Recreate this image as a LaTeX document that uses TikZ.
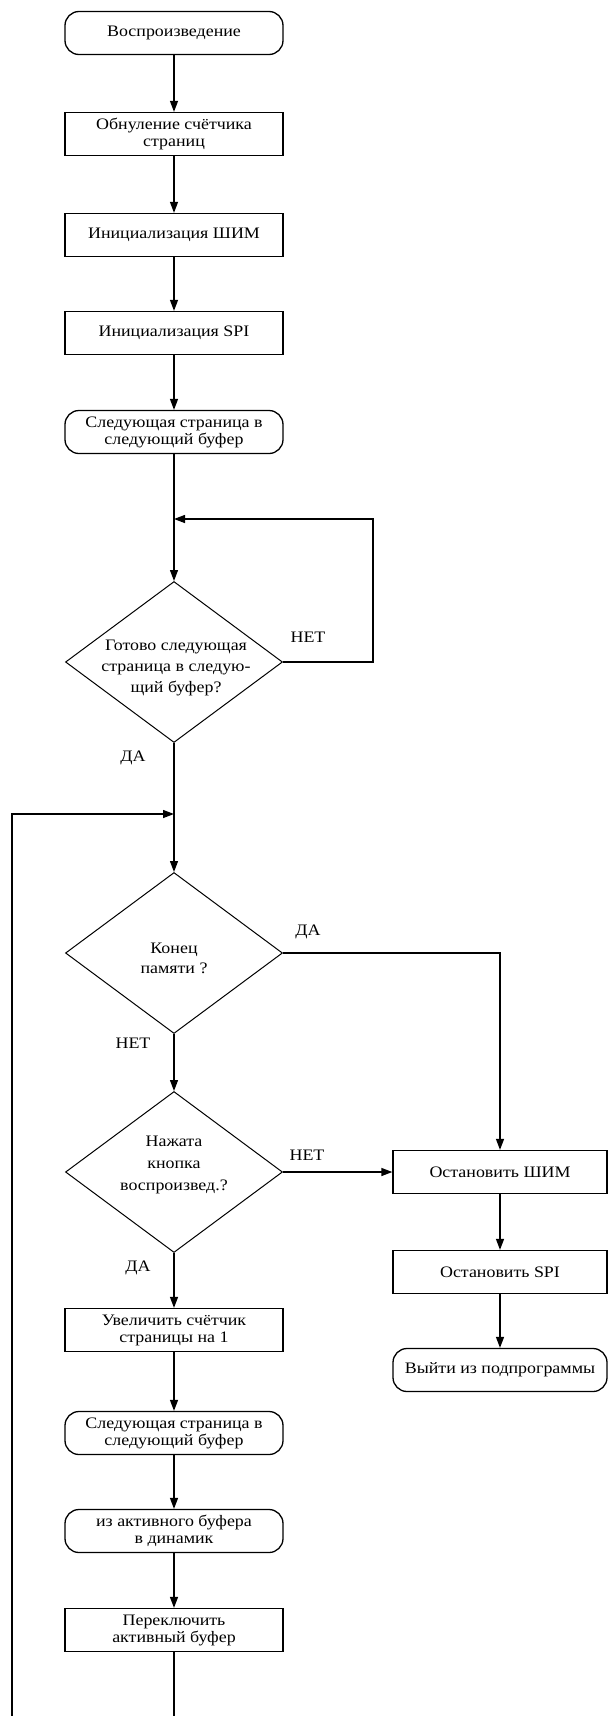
\documentclass[tikz,border=0pt]{standalone}
\usepackage{fontspec}
\setmainfont{Liberation Serif}[FakeStretch=1.12]
\usetikzlibrary{shapes.geometric,arrows.meta}

\tikzset{
  blk/.style={draw,line width=1.3pt,minimum width=218pt,minimum height=43pt,inner sep=0pt,
    align=center,font=\fontsize{16}{17}\selectfont},
  term/.style={blk,rounded corners=14pt},
  cond/.style={draw,diamond,line width=1pt,minimum width=217pt,minimum height=161pt,inner sep=0pt},
  condtxt/.style={align=center,font=\fontsize{16}{21}\selectfont},
  lbl/.style={font=\fontsize{16}{16}\selectfont},
  ln/.style={line width=1.3pt},
  arr/.style={ln,-{Triangle[length=11pt,width=8pt]}},
}

\begin{document}
\begin{tikzpicture}[x=1pt,y=-1pt]
    \useasboundingbox (0,0) rectangle (608,1716);
    % main column
    \node[term] (start) at (174,33) {Воспроизведение};
    \node[blk] (reset) at (174,134) {Обнуление счётчика\\страниц};
    \node[blk] (pwm) at (174,235) {Инициализация ШИМ};
    \node[blk] (spi) at (174,333) {Инициализация SPI};
    \node[term] (next1) at (174,432) {Следующая страница в\\следующий буфер};
    \coordinate (j1) at (174,519);
    \node[cond] (ready) at (174,662) {};
    \node[condtxt] (readyq) at (176,668) {Готово следующая\\страница в следую-\\щий буфер?};
    \coordinate (j2) at (174,814);
    \node[cond] (memend) at (174,953) {};
    \node[condtxt,font=\fontsize{16}{20}\selectfont] (memendq) at (174,958) {Конец\\памяти ?};
    \node[cond] (button) at (174,1172) {};
    \node[condtxt,font=\fontsize{16}{22}\selectfont] (buttonq) at (174,1165) {Нажата\\кнопка\\воспроизвед.?};
    \node[blk] (inc) at (174,1330) {Увеличить счётчик\\страницы на 1};
    \node[term] (next2) at (174,1433) {Следующая страница в\\следующий буфер};
    \node[term] (out) at (174,1531) {из активного буфера\\в динамик};
    \node[blk] (swap) at (174,1630) {Переключить\\активный буфер};
    % right column
    \node[blk,minimum width=214pt] (stoppwm) at (500,1172) {Остановить ШИМ};
    \node[blk,minimum width=214pt] (stopspi) at (500,1272) {Остановить SPI};
    \node[term,minimum width=214pt] (quit) at (500,1370) {Выйти из подпрограммы};
    \coordinate (back) at (12,1730);

    \draw[arr] (start) -- (reset);
    \draw[arr] (reset) -- (pwm);
    \draw[arr] (pwm) -- (spi);
    \draw[arr] (spi) -- (next1);
    \draw[ln] (next1) -- (j1);
    \draw[arr] (j1) -- (ready);
    \draw[arr] (ready.east) -- ++(90,0) |- (j1);
    \draw[ln] (ready) -- (j2);
    \draw[arr] (j2) -- (memend);
    \draw[arr] (memend.east) -| (stoppwm);
    \draw[arr] (memend) -- (button);
    \draw[arr] (button) -- (stoppwm);
    \draw[arr] (button) -- (inc);
    \draw[arr] (inc) -- (next2);
    \draw[arr] (next2) -- (out);
    \draw[arr] (out) -- (swap);
    \draw[arr] (swap) |- (back) |- (j2);
    \draw[arr] (stoppwm) -- (stopspi);
    \draw[arr] (stopspi) -- (quit);

    \node[lbl] (no1) at (308,637) {НЕТ};
    \node[lbl] (yes1) at (133,758) {ДА};
    \node[lbl] (yes2) at (308,932) {ДА};
    \node[lbl] (no2) at (133,1043) {НЕТ};
    \node[lbl] (no3) at (307,1155) {НЕТ};
    \node[lbl] (yes3) at (138,1268) {ДА};
  \end{tikzpicture}
\end{document}
